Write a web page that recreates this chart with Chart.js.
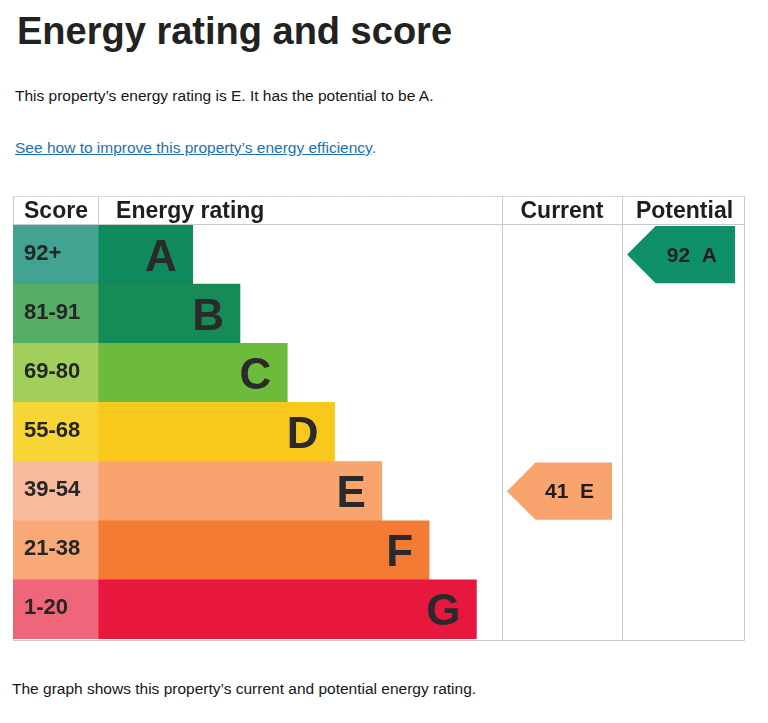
<!DOCTYPE html>
<html>
<head>
<meta charset="utf-8">
<script src="https://cdn.jsdelivr.net/npm/chart.js@4/dist/chart.umd.min.js"></script>
<style>
  html, body { margin: 0; padding: 0; background: #ffffff; }
  body { width: 768px; height: 723px; position: relative; overflow: hidden; font-family: "Liberation Sans", Arial, sans-serif; color: #161616; }
  .t { position: absolute; white-space: nowrap; line-height: 1; }
  #title { left: 17px; top: 12px; font-size: 38px; font-weight: bold; color: #222222; }
  #sub { left: 15px; top: 88px; font-size: 15.5px; }
  #linkline { left: 15px; top: 140px; font-size: 15.5px; color: #1d70b8; }
  #linkline a { color: #1d70b8; text-decoration: underline; }
  #foot { left: 12px; top: 681px; font-size: 15.5px; }
  #wrap { position: absolute; left: 13px; top: 196px; width: 733px; height: 447px; }
</style>
</head>
<body>
<div class="t" id="title">Energy rating and score</div>
<div class="t" id="sub">This property’s energy rating is E. It has the potential to be A.</div>
<div class="t" id="linkline"><a>See how to improve this property’s energy efficiency</a>.</div>
<div class="t" id="foot">The graph shows this property’s current and potential energy rating.</div>
<div id="wrap"><canvas id="c" width="733" height="447"></canvas></div>
<script>
// ---- data ----
const bands = ['A', 'B', 'C', 'D', 'E', 'F', 'G'];
const scoreRanges = ['92+', '81-91', '69-80', '55-68', '39-54', '21-38', '1-20'];
const bandMinScores = [92, 81, 69, 55, 39, 21, 1];
const barLengths = [2, 3, 4, 5, 6, 7, 8];
const currentScore = 41;
const potentialScore = 92;
const headers = ['Score', 'Energy rating', 'Current', 'Potential'];

// ---- styles / layout ----
const bandColors  = ['#0e8a5d', '#168b57', '#6dbb3c', '#f8c81c', '#f9a46f', '#f47b33', '#e8173e'];
const scoreColors = ['#43a393', '#55ad66', '#a2cf5c', '#f7d535', '#f9b99c', '#f8a976', '#ef6579'];
const arrowGreen = '#10906a';
const SCORE_COL = 1.8;      // width of the score column in scale units
const CUR_START = 8.54, POT_START = 11.08, X_MAX = 13.68;

function bandOf(score) { return bandMinScores.findIndex(m => score >= m); }

const tablePlugin = {
  id: 'epcTable',
  beforeDatasetsDraw(chart) {
    const { ctx, chartArea, scales: { x } } = chart;
    ctx.save();
    ctx.strokeStyle = '#c9c9cc';
    ctx.lineWidth = 1;
    const L = 0.5, R = chart.width - 1.5, T = 0.5, B = chart.height - 2.5, H = chartArea.top - 0.5;
    const cols = [x.getPixelForValue(0), x.getPixelForValue(CUR_START), x.getPixelForValue(POT_START)];
    ctx.beginPath();
    ctx.setLineDash([2, 1]);
    ctx.moveTo(L, T); ctx.lineTo(R, T);
    ctx.stroke();
    ctx.setLineDash([]);
    ctx.beginPath();
    ctx.moveTo(L, H); ctx.lineTo(R, H);
    ctx.moveTo(L, B); ctx.lineTo(R, B);
    ctx.moveTo(L, T); ctx.lineTo(L, B);
    ctx.moveTo(R, T); ctx.lineTo(R, B);
    ctx.moveTo(Math.round(cols[0]) + 0.5, T); ctx.lineTo(Math.round(cols[0]) + 0.5, H);
    ctx.moveTo(Math.round(cols[1]) + 0.5, T); ctx.lineTo(Math.round(cols[1]) + 0.5, B);
    ctx.moveTo(Math.round(cols[2]) + 0.5, T); ctx.lineTo(Math.round(cols[2]) + 0.5, B);
    ctx.stroke();
    ctx.restore();
  },
  afterDatasetsDraw(chart) {
    const { ctx, chartArea, scales: { x, y } } = chart;
    ctx.save();
    ctx.fillStyle = '#1e1e1e';
    ctx.textBaseline = 'alphabetic';
    // headers
    ctx.font = 'bold 23px "Liberation Sans", Arial, sans-serif';
    const hy = chartArea.top - 7;
    ctx.textAlign = 'left';
    ctx.fillText(headers[0], 11, hy);
    ctx.fillText(headers[1], x.getPixelForValue(0) + 18, hy);
    ctx.textAlign = 'center';
    ctx.fillText(headers[2], (x.getPixelForValue(CUR_START) + x.getPixelForValue(POT_START)) / 2, hy);
    ctx.fillText(headers[3], (x.getPixelForValue(POT_START) + x.getPixelForValue(X_MAX)) / 2 + 1, hy);
    // score labels and band letters
    const bars = chart.getDatasetMeta(1).data;
    bands.forEach((b, i) => {
      const el = bars[i];
      ctx.textAlign = 'left';
      ctx.font = 'bold 22px "Liberation Sans", Arial, sans-serif';
      ctx.fillStyle = '#262626';
      ctx.fillText(scoreRanges[i], 11, el.y + 5);
      ctx.textAlign = 'right';
      ctx.font = 'bold 44px "Liberation Sans", Arial, sans-serif';
      ctx.fillStyle = '#2a2a2a';
      ctx.fillText(b, el.x - 16, el.y + 16);
    });
    // arrows
    const drawArrow = (score, c0, c1) => {
      const idx = bandOf(score);
      const el = bars[idx];
      const cy = y.getPixelForValue(idx);
      const h = el.height;
      const tip = x.getPixelForValue(c0) + 5;
      const right = x.getPixelForValue(c1) - 10;
      const top = cy - h / 2 + 1, bot = cy + h / 2 - 1;
      const body = tip + (bot - top) / 2;
      ctx.beginPath();
      ctx.moveTo(tip, cy);
      ctx.lineTo(body, top);
      ctx.lineTo(right, top);
      ctx.lineTo(right, bot);
      ctx.lineTo(body, bot);
      ctx.closePath();
      ctx.fillStyle = idx === 0 ? arrowGreen : bandColors[idx];
      ctx.fill();
      ctx.fillStyle = '#1e1e1e';
      ctx.font = 'bold 21px "Liberation Sans", Arial, sans-serif';
      ctx.textAlign = 'right';
      ctx.fillText(score + '  ' + bands[idx], right - 18, cy + 7);
    };
    drawArrow(currentScore, CUR_START, POT_START);
    drawArrow(potentialScore, POT_START, X_MAX);
    ctx.restore();
  }
};

new Chart(document.getElementById('c'), {
  type: 'bar',
  data: {
    labels: bands,
    datasets: [
      {
        label: 'Score',
        data: bands.map(() => [-SCORE_COL, 0]),
        backgroundColor: scoreColors,
        grouped: false,
        barPercentage: 1, categoryPercentage: 1,
        borderWidth: 0, borderSkipped: false
      },
      {
        label: 'Energy rating',
        data: barLengths.map(v => [0, v]),
        backgroundColor: bandColors,
        grouped: false,
        barPercentage: 1, categoryPercentage: 1,
        borderWidth: 0, borderSkipped: false
      }
    ]
  },
  options: {
    indexAxis: 'y',
    responsive: false,
    animation: false,
    events: [],
    layout: { padding: { top: 29, bottom: 4, left: 0, right: 1 } },
    plugins: { legend: { display: false }, tooltip: { enabled: false } },
    scales: {
      x: { type: 'linear', min: -SCORE_COL, max: X_MAX, display: false },
      y: { type: 'category', display: false }
    }
  },
  plugins: [tablePlugin]
});
</script>
</body>
</html>
